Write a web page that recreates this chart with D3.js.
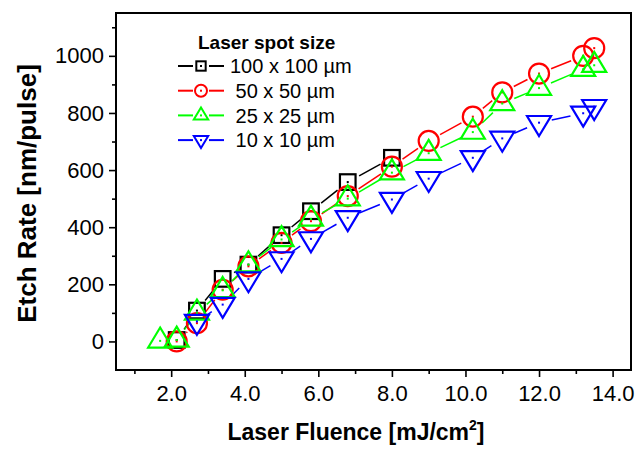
<!DOCTYPE html>
<html><head><meta charset="utf-8">
<script src="https://cdn.jsdelivr.net/npm/d3@7"></script>
<style>
body{margin:0;background:#fff;}
svg{display:block;font-family:"Liberation Sans",Arial,sans-serif;}
</style></head>
<body><svg id="c" width="636" height="450"></svg>
<script>
const seriesNames = ["100 x 100 µm", " 50 x 50 µm", " 25 x 25 µm", " 10 x 10 µm"];
const seriesColors = ["#000000", "#ff0000", "#00ff00", "#0000ff"];
const seriesSymbols = ["square", "circle", "up", "down"];
const fluence100 = [2.15, 2.7, 3.4, 4.1, 5.0, 5.8, 6.8, 8.0];
const rate100 = [5, 108, 219, 269, 372, 456, 558, 643];
const fluence50 = [2.15, 2.7, 3.4, 4.1, 5.0, 5.8, 6.8, 8.0, 9.0, 10.2, 11.0, 12.0, 13.2, 13.5];
const rate50 = [0, 64, 181, 263, 345, 421, 509, 612, 702, 787, 872, 938, 1000, 1027];
const fluence25 = [1.7, 2.15, 2.7, 3.4, 4.1, 5.0, 5.8, 6.8, 8.0, 9.0, 10.2, 11.0, 12.0, 13.2, 13.5];
const rate25 = [2, 5, 100, 179, 269, 357, 429, 500, 591, 659, 733, 833, 887, 953, 967];
const fluence10 = [2.7, 3.4, 4.1, 5.0, 5.8, 6.8, 8.0, 9.0, 10.2, 11.0, 12.0, 13.2, 13.5];
const rate10 = [70, 129, 219, 289, 359, 433, 497, 570, 643, 711, 766, 799, 822];
const xMajorTicks = [2, 4, 6, 8, 10, 12, 14];
const xMinorTicks = [1, 3, 5, 7, 9, 11, 13];
const yMajorTicks = [0, 200, 400, 600, 800, 1000];
const yMinorTicks = [100, 300, 500, 700, 900, 1100];
const legendTitle = "Laser spot size";
const xTitle = "Laser Fluence [mJ/cm";
const xTitleSup = "2";
const yTitle = "Etch Rate [nm/pulse]";

const series = [
  {x: fluence100, y: rate100},
  {x: fluence50, y: rate50},
  {x: fluence25, y: rate25},
  {x: fluence10, y: rate10}
].map((s, i) => ({name: seriesNames[i], color: seriesColors[i], sym: seriesSymbols[i],
  pts: s.x.map((v, j) => [v, s.y[j]])}));

const svg = d3.select("#c");
const L = 116, R = 631, T = 13, B = 370;
const x = d3.scaleLinear().domain([0.5, 14.5]).range([L, R]);
const y = d3.scaleLinear().domain([-100, 1150]).range([B, T]);

// axes
const xAxis = svg.append("g").attr("transform", `translate(0,${B})`)
  .call(d3.axisBottom(x).tickValues(xMajorTicks).tickFormat(d3.format(".1f")).tickSize(7).tickPadding(8));
svg.append("g").attr("transform", `translate(0,${B})`)
  .call(d3.axisBottom(x).tickValues(xMinorTicks).tickFormat("").tickSize(4));
const yAxis = svg.append("g").attr("transform", `translate(${L},0)`)
  .call(d3.axisLeft(y).tickValues(yMajorTicks).tickFormat(d3.format("d")).tickSize(7).tickPadding(5));
svg.append("g").attr("transform", `translate(${L},0)`)
  .call(d3.axisLeft(y).tickValues(yMinorTicks).tickFormat("").tickSize(4));
svg.selectAll(".domain").remove();
svg.selectAll(".tick line").attr("stroke", "#000").attr("stroke-width", 1.6);
svg.selectAll(".tick text").attr("font-size", 22).attr("fill", "#000")
  .attr("font-family", "Liberation Sans, Arial, sans-serif");
xAxis.selectAll(".tick text").attr("dy", "0.71em");

// frame
svg.append("rect").attr("x", L).attr("y", T).attr("width", R - L).attr("height", B - T)
  .attr("fill", "none").attr("stroke", "#000").attr("stroke-width", 2);

// symbols
function drawSymbol(g, sym, cx, cy, color, s, sw) {
  let el;
  if (sym === "square") {
    el = g.append("rect").attr("x", cx - s * 0.78).attr("y", cy - s * 0.78)
      .attr("width", s * 1.56).attr("height", s * 1.56);
  } else if (sym === "circle") {
    el = g.append("circle").attr("cx", cx).attr("cy", cy).attr("r", s);
  } else if (sym === "up") {
    const w = s * 1.2, h = s * 2.0;
    el = g.append("path").attr("d", `M${cx},${cy - h * 2 / 3}L${cx + w},${cy + h / 3}L${cx - w},${cy + h / 3}Z`);
  } else {
    const w = s * 1.2, h = s * 2.0;
    el = g.append("path").attr("d", `M${cx},${cy + h * 2 / 3}L${cx + w},${cy - h / 3}L${cx - w},${cy - h / 3}Z`);
  }
  el.attr("fill", "none").attr("stroke", color).attr("stroke-width", sw);
  g.append("rect").attr("x", cx - 1).attr("y", cy - 1).attr("width", 2).attr("height", 2)
    .attr("fill", color);
}

// lines with gaps
const gap = 13;
series.forEach(s => {
  const g = svg.append("g");
  for (let i = 0; i < s.pts.length - 1; i++) {
    const x1 = x(s.pts[i][0]), y1 = y(s.pts[i][1]);
    const x2 = x(s.pts[i + 1][0]), y2 = y(s.pts[i + 1][1]);
    const d = Math.hypot(x2 - x1, y2 - y1);
    if (d <= 2 * gap + 1) continue;
    const ux = (x2 - x1) / d, uy = (y2 - y1) / d;
    g.append("line").attr("x1", x1 + ux * gap).attr("y1", y1 + uy * gap)
      .attr("x2", x2 - ux * gap).attr("y2", y2 - uy * gap)
      .attr("stroke", s.color).attr("stroke-width", 1.5);
  }
});
series.forEach(s => {
  const g = svg.append("g");
  s.pts.forEach(p => drawSymbol(g, s.sym, x(p[0]), y(p[1]), s.color, 10, 2.2));
});

// legend
const lg = svg.append("g");
lg.append("text").attr("x", 198).attr("y", 49).attr("font-size", 19).attr("font-weight", "bold")
  .text(legendTitle);
series.forEach((s, i) => {
  const cy = 66 + i * 24.7;
  lg.append("line").attr("x1", 178).attr("x2", 193).attr("y1", cy).attr("y2", cy)
    .attr("stroke", s.color).attr("stroke-width", 2);
  lg.append("line").attr("x1", 209).attr("x2", 224).attr("y1", cy).attr("y2", cy)
    .attr("stroke", s.color).attr("stroke-width", 2);
  const sg = lg.append("g");
  drawSymbol(sg, s.sym, 201, cy, s.color, 6, 2);
  lg.append("text").attr("x", 230).attr("y", cy + 7.3).attr("font-size", 20)
    .style("white-space", "pre").attr("xml:space", "preserve").text(s.name);
});

// titles
const xt = svg.append("text").attr("x", 356).attr("y", 440).attr("text-anchor", "middle")
  .attr("font-size", 23).attr("font-weight", "bold");
xt.append("tspan").text(xTitle);
xt.append("tspan").attr("font-size", 14).attr("dy", -10).text(xTitleSup);
xt.append("tspan").attr("dy", 10).text("]");
svg.append("text").attr("transform", `translate(36,${(T + B) / 2 + 2}) rotate(-90)`)
  .attr("text-anchor", "middle").attr("font-size", 26).attr("font-weight", "bold").text(yTitle);
</script></body></html>
